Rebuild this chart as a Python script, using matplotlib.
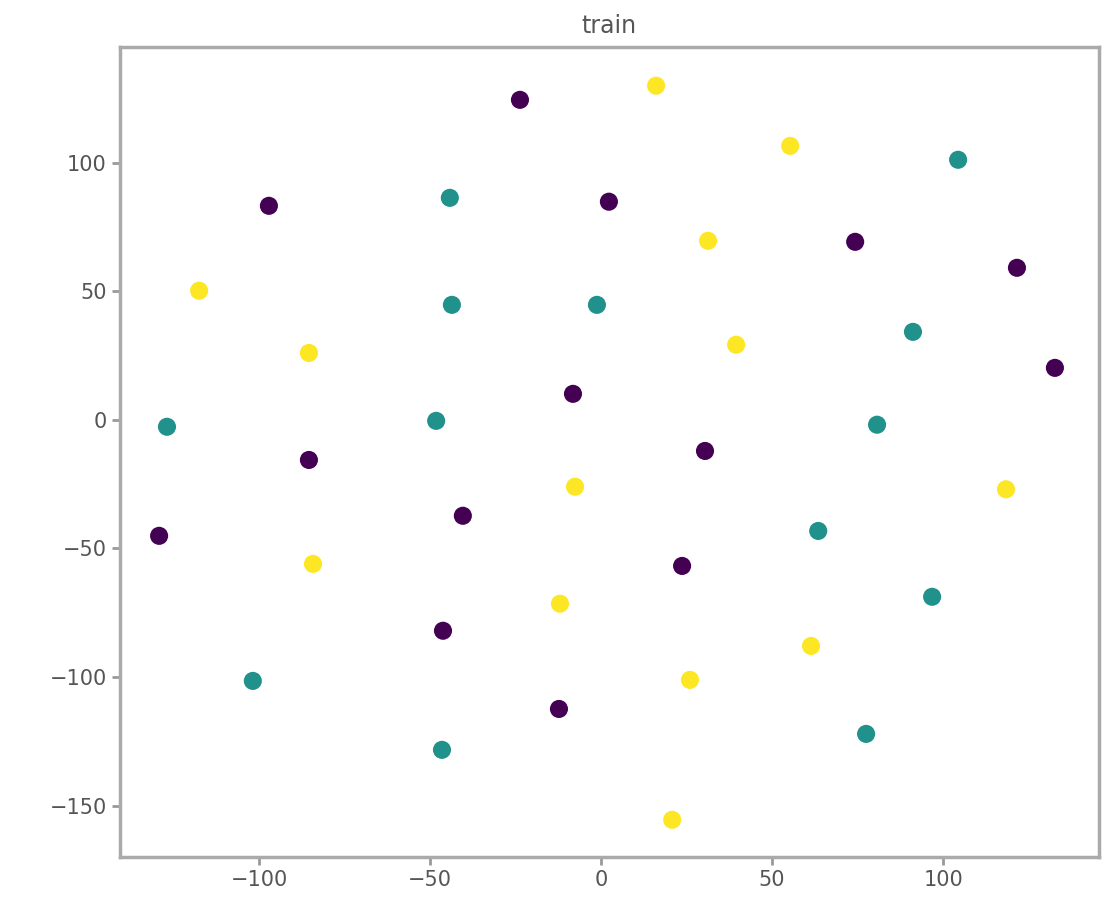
import numpy as np
import matplotlib.pyplot as plt

# class 0 (dark purple)
x0 = [-23.7, -97.1, 2.3, 74.3, 121.6, 132.7, -8.2, 30.4, -85.4, -40.4, -129.2, 23.7, -46.2, -12.3]
y0 = [124.4, 83.2, 84.8, 69.2, 59.1, 20.2, 10.1, -12.1, -15.6, -37.3, -45.1, -56.8, -82.0, -112.4]
# class 1 (teal)
x1 = [104.4, -44.2, -43.6, -1.2, 91.2, -126.9, -48.2, 80.7, 63.5, 96.8, -101.8, -46.5, 77.5]
y1 = [101.1, 86.3, 44.7, 44.7, 34.2, -2.7, -0.4, -1.9, -43.2, -68.8, -101.5, -128.3, -122.1]
# class 2 (yellow)
x2 = [16.1, 55.3, 31.3, -117.5, -85.4, 39.5, -7.6, 118.4, -84.2, -12.0, 61.4, 26.0, 20.8]
y2 = [129.9, 106.5, 69.6, 50.2, 26.0, 29.2, -26.0, -27.0, -56.0, -71.5, -87.9, -101.1, -155.5]

xs = np.array(x0 + x1 + x2)
ys = np.array(y0 + y1 + y2)
labels = np.array([0] * len(x0) + [1] * len(x1) + [2] * len(x2))

fig = plt.figure(figsize=(11.02, 9.01), dpi=100)
ax = fig.add_axes([0.109, 0.049, 0.888, 0.899])

ax.scatter(xs, ys, c=labels, cmap='viridis', s=170, edgecolors='none')

ax.set_xlim(-140.6, 145.5)
ax.set_ylim(-169.9, 145.0)
ax.set_xticks([-100, -50, 0, 50, 100])
ax.set_yticks([-150, -100, -50, 0, 50, 100])
ax.set_title('train', fontsize=17, color='#555555', pad=10)

for s in ax.spines.values():
    s.set_color('#aaaaaa')
    s.set_linewidth(2.5)
ax.tick_params(labelsize=15, colors='#999999', labelcolor='#555555', width=2, length=6)

fig.savefig('out.png', dpi=100)
